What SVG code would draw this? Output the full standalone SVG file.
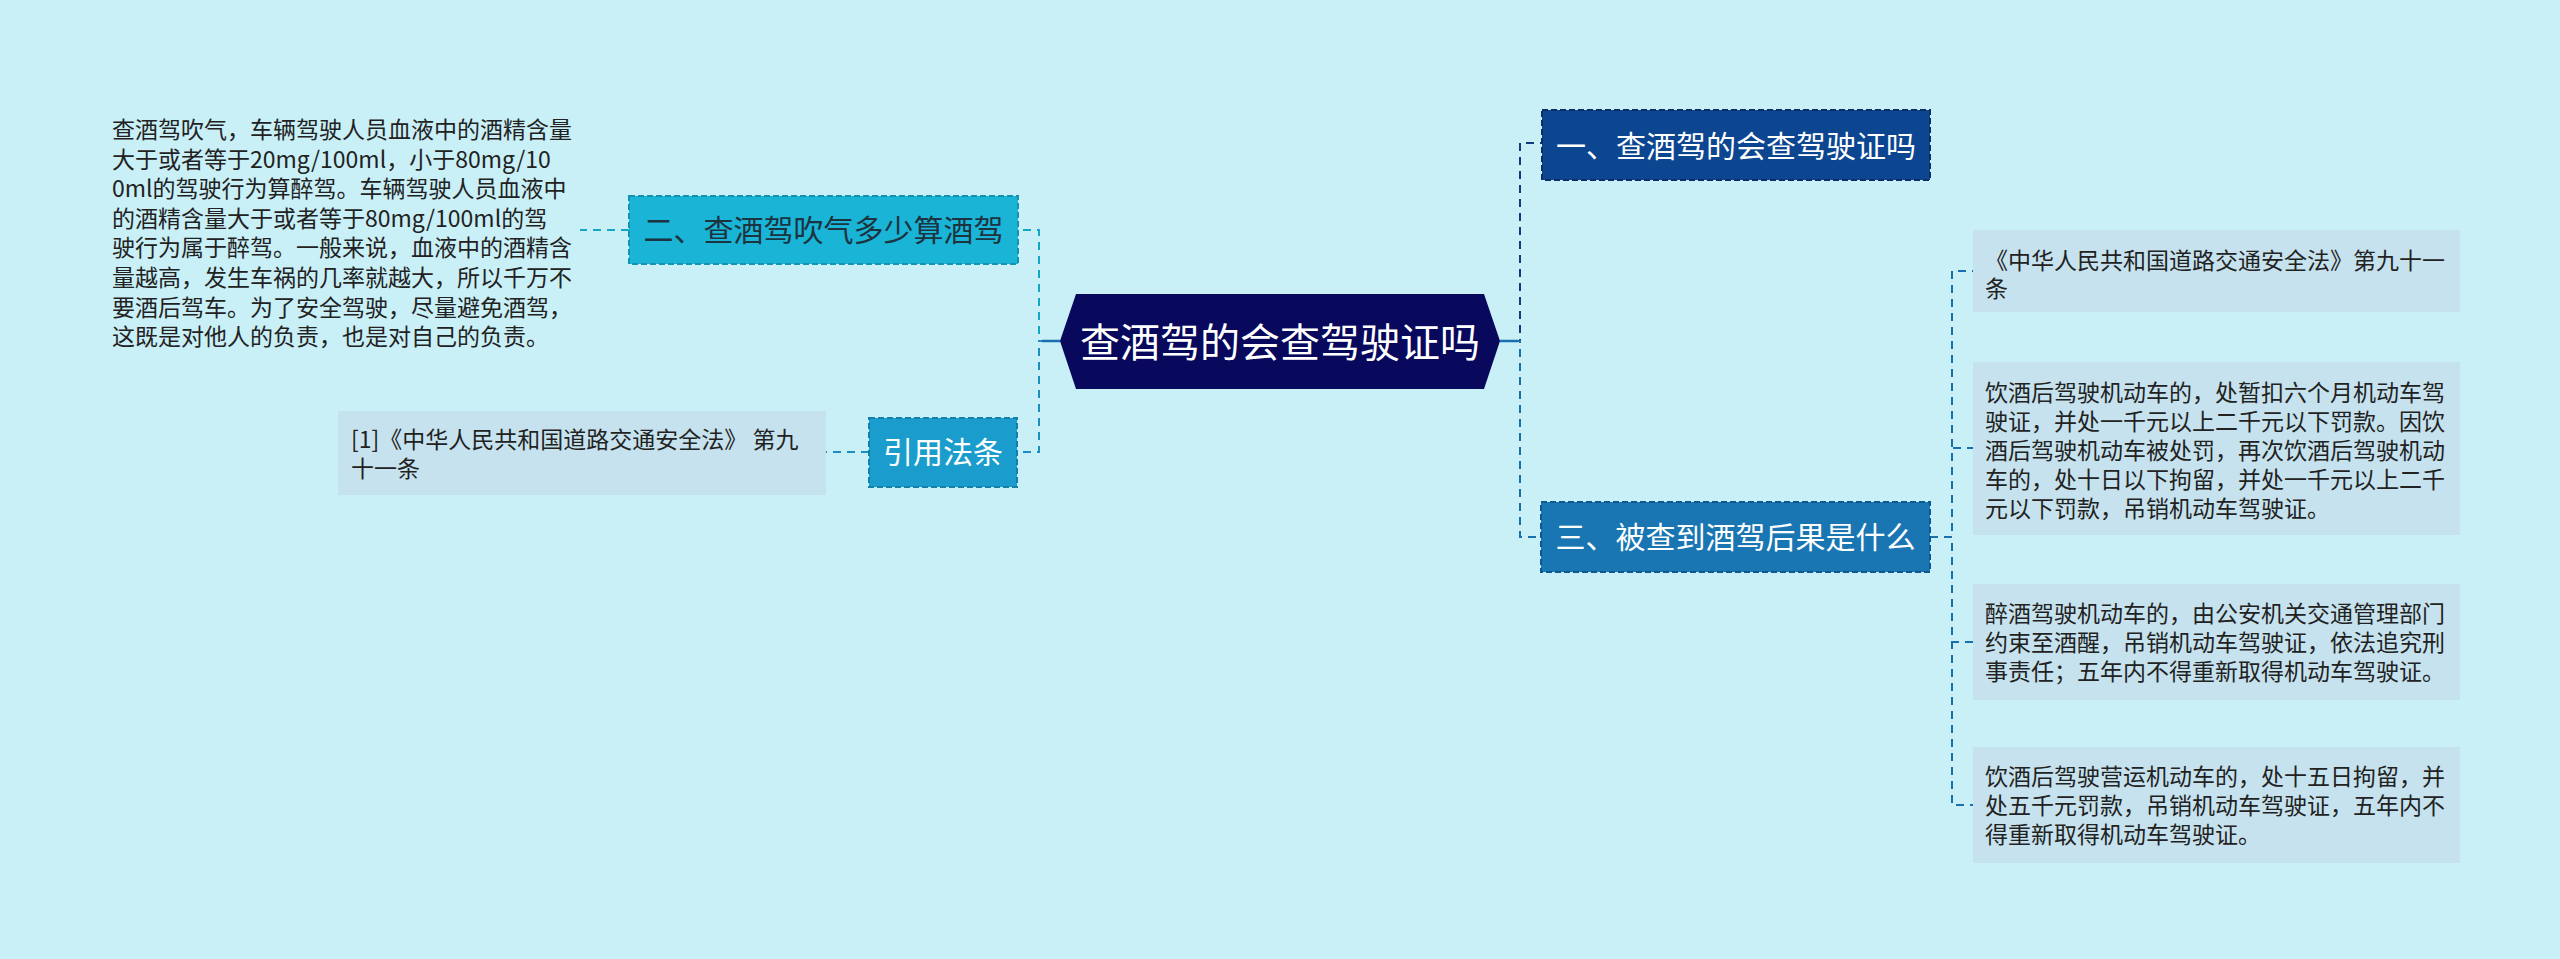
<svg xmlns="http://www.w3.org/2000/svg" width="2560" height="959" viewBox="0 0 2560 959">
<style>
text{font-family:"Noto Sans CJK SC","Noto Sans",sans-serif}
.conn{fill:none;stroke-width:2;stroke-dasharray:8 6}
.detail{font-size:23px;fill:#222}
.node{font-size:30px}
.gbox{fill:#c6e2ee}
</style>
<rect x="0" y="0" width="2560" height="959" fill="#c9eff7"/>
<g id="connectors">
  <path class="conn" d="M1060 341 H1039 V230 H1018" stroke="#17a6c8"/>
  <path class="conn" d="M1060 341 H1039 V452 H1017" stroke="#1a8fc0"/>
  <path class="conn" d="M1500 341 H1520 V143 H1542" stroke="#0d3d80"/>
  <path class="conn" d="M1500 341 H1520 V537 H1541" stroke="#1a70ac"/>
  <path class="conn" d="M629 230 H580" stroke="#17a6c8"/>
  <path class="conn" d="M869 452 H826" stroke="#1a8fc0"/>
  <path class="conn" d="M1930 537 H1952 V271 H1973" stroke="#1a70ac"/>
  <path class="conn" d="M1930 537 H1952 V448 H1973" stroke="#1a70ac"/>
  <path class="conn" d="M1930 537 H1952 V642 H1973" stroke="#1a70ac"/>
  <path class="conn" d="M1930 537 H1952 V805 H1973" stroke="#1a70ac"/>
  <path d="M1060 341 H1042 M1500 341 H1518" stroke="#1a70ac" stroke-width="2.5"/>
</g>
<g id="center">
  <polygon points="1060,341 1076,294 1484,294 1500,341 1484,389 1076,389" fill="#08085c"/>
  <text x="1280" y="357" font-size="40" fill="#ffffff" text-anchor="middle">查酒驾的会查驾驶证吗</text>
</g>
<g id="node-2">
  <rect x="629" y="196" width="389" height="68" fill="#1ab4d6" stroke="#1592b0" stroke-width="2" stroke-dasharray="6 3"/>
  <text class="node" x="823.5" y="241" fill="#1c3340" text-anchor="middle">二、查酒驾吹气多少算酒驾</text>
</g>
<g id="node-2-detail">
  <text class="detail" x="112" y="138">查酒驾吹气，车辆驾驶人员血液中的酒精含量</text>
  <text class="detail" x="112" y="167.6">大于或者等于20mg/100ml，小于80mg/10</text>
  <text class="detail" x="112" y="197.2">0ml的驾驶行为算醉驾。车辆驾驶人员血液中</text>
  <text class="detail" x="112" y="226.8">的酒精含量大于或者等于80mg/100ml的驾</text>
  <text class="detail" x="112" y="256.4">驶行为属于醉驾。一般来说，血液中的酒精含</text>
  <text class="detail" x="112" y="286">量越高，发生车祸的几率就越大，所以千万不</text>
  <text class="detail" x="112" y="315.6">要酒后驾车。为了安全驾驶，尽量避免酒驾，</text>
  <text class="detail" x="112" y="345.2">这既是对他人的负责，也是对自己的负责。</text>
</g>
<g id="node-cite">
  <rect x="869" y="418" width="148" height="69" fill="#1a9dcd" stroke="#137fab" stroke-width="2" stroke-dasharray="6 3"/>
  <text class="node" x="943" y="463" fill="#ffffff" text-anchor="middle">引用法条</text>
</g>
<g id="node-cite-detail">
  <rect class="gbox" x="338" y="411" width="488" height="84"/>
  <text class="detail" x="351" y="448">[1]《中华人民共和国道路交通安全法》 第九</text>
  <text class="detail" x="351" y="477">十一条</text>
</g>
<g id="node-1">
  <rect x="1542" y="110" width="388" height="70" fill="#0c4690" stroke="#0a2f66" stroke-width="2" stroke-dasharray="6 3"/>
  <text class="node" x="1736" y="157" fill="#ffffff" text-anchor="middle">一、查酒驾的会查驾驶证吗</text>
</g>
<g id="node-3">
  <rect x="1541" y="502" width="389" height="70" fill="#1a76b3" stroke="#0e5890" stroke-width="2" stroke-dasharray="6 3"/>
  <text class="node" x="1735.5" y="548" fill="#ffffff" text-anchor="middle">三、被查到酒驾后果是什么</text>
</g>
<g id="node-3-d1">
  <rect class="gbox" x="1973" y="230" width="487" height="82"/>
  <text class="detail" x="1985" y="269">《中华人民共和国道路交通安全法》第九十一</text>
  <text class="detail" x="1985" y="297">条</text>
</g>
<g id="node-3-d2">
  <rect class="gbox" x="1973" y="362" width="487" height="173"/>
  <text class="detail" x="1985" y="401">饮酒后驾驶机动车的，处暂扣六个月机动车驾</text>
  <text class="detail" x="1985" y="430">驶证，并处一千元以上二千元以下罚款。因饮</text>
  <text class="detail" x="1985" y="459">酒后驾驶机动车被处罚，再次饮酒后驾驶机动</text>
  <text class="detail" x="1985" y="488">车的，处十日以下拘留，并处一千元以上二千</text>
  <text class="detail" x="1985" y="517">元以下罚款，吊销机动车驾驶证。</text>
</g>
<g id="node-3-d3">
  <rect class="gbox" x="1973" y="584" width="487" height="116"/>
  <text class="detail" x="1985" y="622">醉酒驾驶机动车的，由公安机关交通管理部门</text>
  <text class="detail" x="1985" y="651">约束至酒醒，吊销机动车驾驶证，依法追究刑</text>
  <text class="detail" x="1985" y="680">事责任；五年内不得重新取得机动车驾驶证。</text>
</g>
<g id="node-3-d4">
  <rect class="gbox" x="1973" y="747" width="487" height="116"/>
  <text class="detail" x="1985" y="785">饮酒后驾驶营运机动车的，处十五日拘留，并</text>
  <text class="detail" x="1985" y="814">处五千元罚款，吊销机动车驾驶证，五年内不</text>
  <text class="detail" x="1985" y="843">得重新取得机动车驾驶证。</text>
</g>
</svg>
